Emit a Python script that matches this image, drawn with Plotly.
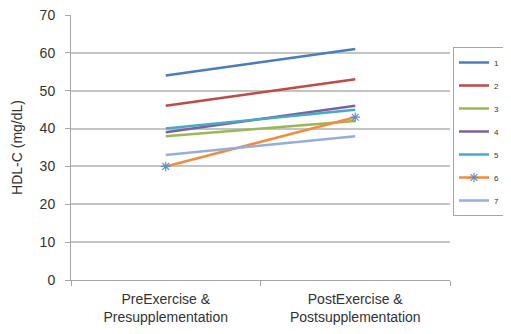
import plotly.graph_objects as go

categories = ["PreExercise &<br>Presupplementation", "PostExercise &<br>Postsupplementation"]
series_names = ["1", "2", "3", "4", "5", "6", "7"]
s1 = [54, 61]
s2 = [46, 53]
s3 = [38, 42]
s4 = [39, 46]
s5 = [40, 45]
s6 = [30, 43]
s7 = [33, 38]
y_ticks = [0, 10, 20, 30, 40, 50, 60, 70]

all_series = [s1, s2, s3, s4, s5, s6, s7]
colors = ["#4A7EBB", "#BE4B48", "#98B954", "#7D60A0", "#46AAC5", "#F38B3C", "#95AEDA"]

fig = go.Figure()
for i, (name, vals) in enumerate(zip(series_names, all_series)):
    marker = dict(size=1, opacity=0)
    mode = "lines"
    if name == "6":
        mode = "lines+markers"
        marker = dict(symbol="asterisk-open", size=8, color="#5B8FD0",
                      line=dict(color="#5B8FD0", width=1.2))
    fig.add_trace(go.Scatter(
        x=categories, y=vals, name=name, mode=mode,
        line=dict(color=colors[i], width=2.5),
        marker=marker, legendgroup=name,
    ))

font_family = "Liberation Sans, Arial, sans-serif"
txt = "#333333"
# the page body has an 8px default margin, so everything is offset by 8px
fig.update_layout(
    width=511, height=334,
    margin=dict(l=63, r=69, t=7, b=62, autoexpand=False),
    paper_bgcolor="white", plot_bgcolor="white",
    font=dict(family=font_family, size=14, color=txt),
    showlegend=True,
    legend=dict(
        x=(445 - 63) / 379, y=(272 - 39) / 265, xanchor="left", yanchor="top",
        bordercolor="#8EA9CF", borderwidth=1,
        font=dict(size=8, color=txt),
        itemwidth=30, tracegroupgap=4,
        bgcolor="white",
    ),
    xaxis=dict(
        type="category", showgrid=False, showline=True, linecolor="#A6A6A6",
        ticks="outside", tickson="boundaries", ticklen=5, tickcolor="#A6A6A6",
        tickfont=dict(size=14, color=txt), ticklabelstandoff=6,
        range=[-0.5, 1.5],
    ),
    yaxis=dict(
        range=[0, 70], tickvals=y_ticks, showgrid=True, gridcolor="#C4C4C4",
        gridwidth=1.5, showline=True, linecolor="#A6A6A6", ticks="outside",
        ticklen=5, tickcolor="#A6A6A6", tickfont=dict(size=14, color=txt),
        ticklabelstandoff=7, ticklabeloverflow="allow",
        zeroline=False,
        title=dict(text="HDL-C (mg/dL)", font=dict(size=14, color=txt), standoff=13),
    ),
)
fig.write_html("out.html")
